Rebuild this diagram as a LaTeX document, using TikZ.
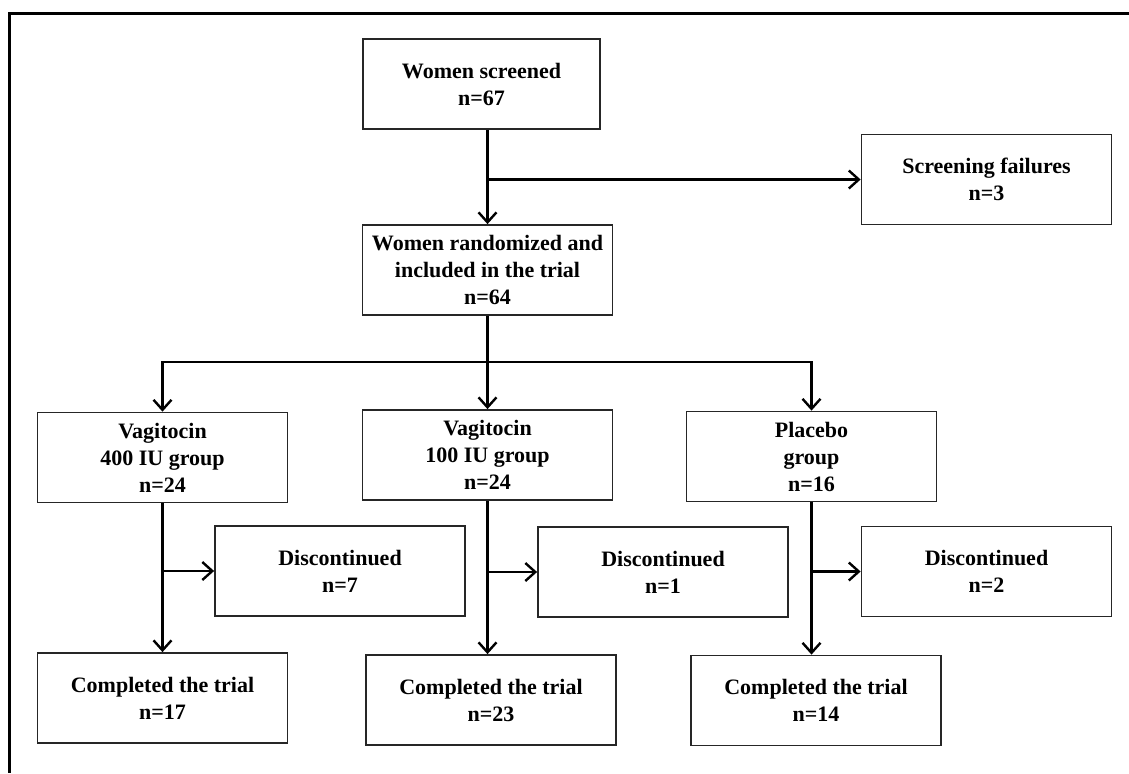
\documentclass[tikz,border=0pt]{standalone}
\usepackage{fontspec}
\setmainfont{Liberation Serif}
\usetikzlibrary{arrows.meta}
\usetikzlibrary{calc}

\tikzset{
  box/.style={draw=black!85, line width=0.9pt, align=center, inner sep=2pt,
    minimum width=125pt, minimum height=45pt,
    font=\fontsize{11}{13.5}\selectfont\bfseries},
  arr/.style={line width=1.4pt, -{Straight Barb[length=5pt,width=9pt,line width=1.2pt]}},
  link/.style={line width=1.4pt}
}

\begin{document}
\begin{tikzpicture}[x=0.5pt,y=-0.5pt]
\useasboundingbox (0,0) rectangle (1129,773);
% frame
\draw[line width=1.5pt] (1129,13) -- (9,13) -- (9,773);

% top of the chart
\node[box, minimum width=118.5pt] (screen) at (481.5,84) {Women screened\\n=67};
\node[box] (fail) at (986.5,179.5) {Screening failures\\n=3};
\node[box] (rand) at (487.5,270) {Women randomized and\\included in the trial\\n=64};
\coordinate (br) at (487.5,362);

% groups
\node[box] (g1) at (162.5,457.5) {Vagitocin\\400 IU group\\n=24};
\node[box] (g2) at (487.5,455) {Vagitocin\\100 IU group\\n=24};
\node[box] (g3) at (811.5,456.5) {Placebo\\group\\n=16};

\node[box] (d1) at (340,571) {Discontinued\\n=7};
\node[box] (d2) at (663,572) {Discontinued\\n=1};
\node[box] (d3) at (986.5,571.5) {Discontinued\\n=2};

\node[box] (c1) at (162.5,698) {Completed the trial\\n=17};
\node[box] (c2) at (491,700) {Completed the trial\\n=23};
\node[box] (c3) at (816,700.5) {Completed the trial\\n=14};

% connectors
\draw[arr] (screen.south -| rand.north) -- (rand.north);
\draw[arr] (fail.west -| rand.north) -- (fail.west);
\draw[link] (rand.south) -- (br);
\draw[arr] (br) -| (g1.north);
\draw[arr] (br) -| (g3.north);
\draw[arr] (br) -- (g2.north);

\foreach \g/\d/\c in {g1/d1/c1, g2/d2/c2, g3/d3/c3} {
  \draw[arr] (\g.south) -- (\g.south |- \c.north);
  \draw[arr] (\g.south |- \d.west) -- (\d.west);
}
\end{tikzpicture}
\end{document}
